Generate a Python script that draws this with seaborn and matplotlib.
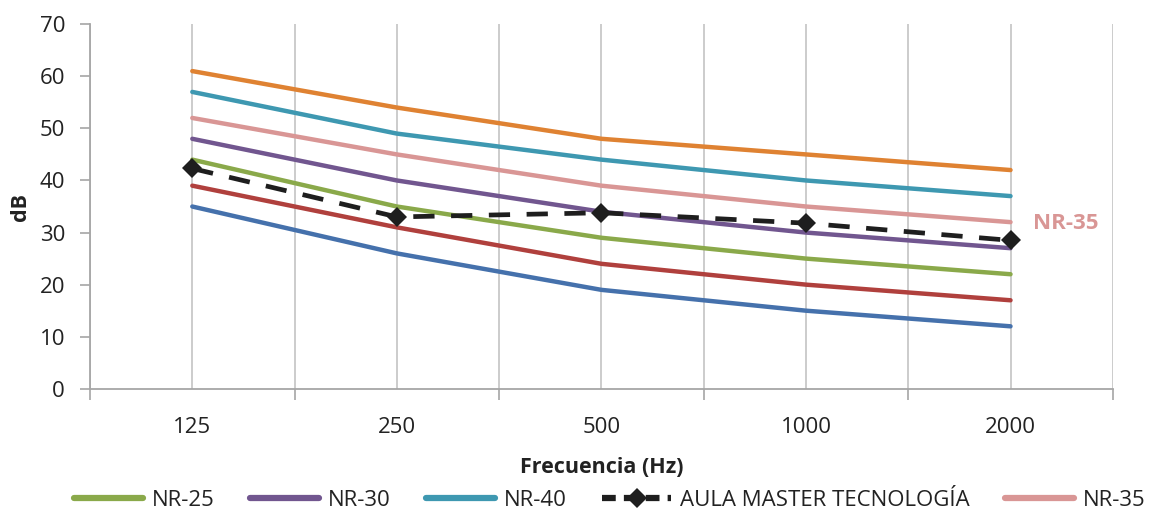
import matplotlib
matplotlib.use("Agg")
import matplotlib.pyplot as plt
import seaborn as sns
import pandas as pd
from matplotlib.lines import Line2D

# Frequency bands and noise rating curves (dB)
frequencies = ["125", "250", "500", "1000", "2000"]
nr15 = [35, 26, 19, 15, 12]
nr20 = [39, 31, 24, 20, 17]
nr25 = [44, 35, 29, 25, 22]
nr30 = [48, 40, 34, 30, 27]
nr35 = [52, 45, 39, 35, 32]
nr40 = [57, 49, 44, 40, 37]
nr45 = [61, 54, 48, 45, 42]
aula = [42.3, 33.0, 33.8, 31.8, 28.5]

series = [
    ("NR-15", nr15, "#4571AC"),
    ("NR-20", nr20, "#B0403D"),
    ("NR-25", nr25, "#8AA94A"),
    ("NR-30", nr30, "#71568F"),
    ("NR-35", nr35, "#D99695"),
    ("NR-40", nr40, "#3E98B1"),
    ("NR-45", nr45, "#DF8232"),
]

sns.set_theme(style="white")
plt.rcParams["font.family"] = ["Open Sans", "DejaVu Sans"]

fig = plt.figure(figsize=(11.57, 5.15), dpi=100)
ax = fig.add_axes([0.0778, 0.245, 0.884, 0.708])

idx = list(range(len(frequencies)))
handles = {}
for name, vals, col in series:
    df = pd.DataFrame({"x": idx, "y": vals})
    sns.lineplot(data=df, x="x", y="y", ax=ax, color=col, linewidth=3.2,
                 sort=False, solid_capstyle="round", zorder=3)
    handles[name] = Line2D([], [], color=col, linewidth=4.5, solid_capstyle="round")

df_a = pd.DataFrame({"x": idx, "y": aula})
sns.lineplot(data=df_a, x="x", y="y", ax=ax, color="#1E1E1E", linewidth=3.4,
             linestyle=(0, (4.5, 3.5)), marker="D", markersize=10,
             markeredgewidth=0, sort=False, zorder=4)
handles["AULA"] = Line2D([], [], color="#1E1E1E", linewidth=4.5,
                         linestyle=(0, (2.2, 1.3)), marker="D",
                         markersize=10, markeredgewidth=0)

ax.set_xlim(-0.5, 4.5)
ax.set_ylim(0, 70)
ax.set_yticks(range(0, 71, 10))
ax.set_xticks([i - 0.5 for i in range(6)])
ax.set_xticklabels([])
ax.set_xticks(idx, minor=True)
ax.set_xticklabels(frequencies, minor=True)
ax.tick_params(axis="x", which="major", length=8, width=1.2, color="#A6A6A6",
               direction="out", bottom=True)
ax.tick_params(axis="x", which="minor", length=0, pad=20, labelsize=16,
               labelcolor="#222222")
ax.tick_params(axis="y", length=7, width=1.2, color="#A6A6A6", direction="out",
               left=True, labelsize=16, labelcolor="#222222", pad=11)

ax.grid(False)
for xv in [i * 0.5 - 0.5 for i in range(11)]:
    ax.axvline(xv, color="#C8C8C8", linewidth=1.3, zorder=1)

for s in ["top", "right"]:
    ax.spines[s].set_visible(False)
for s in ["left", "bottom"]:
    ax.spines[s].set_color("#A6A6A6")
    ax.spines[s].set_linewidth(1.3)

ax.set_xlabel("Frecuencia (Hz)", fontsize=15.5, fontweight="bold", labelpad=14,
              color="#222222")
ax.set_ylabel("dB", fontsize=15.5, fontweight="bold", labelpad=6, color="#222222")

ax.text(4.27, nr35[-1] - 0.3, "NR-35", color="#D99695", fontsize=16,
        fontweight="bold", va="center", ha="center")

order = ["NR-25", "NR-30", "NR-40", "AULA", "NR-35"]
labels = ["NR-25", "NR-30", "NR-40", "AULA MASTER TECNOLOGÍA", "NR-35"]
fig.legend([handles[k] for k in order], labels, loc="center",
           bbox_to_anchor=(0.527, 0.028), ncol=5, frameon=False, fontsize=16,
           handlelength=3.1, handletextpad=0.4, columnspacing=1.6,
           labelcolor="#222222")

fig.savefig("out.png", dpi=100)
